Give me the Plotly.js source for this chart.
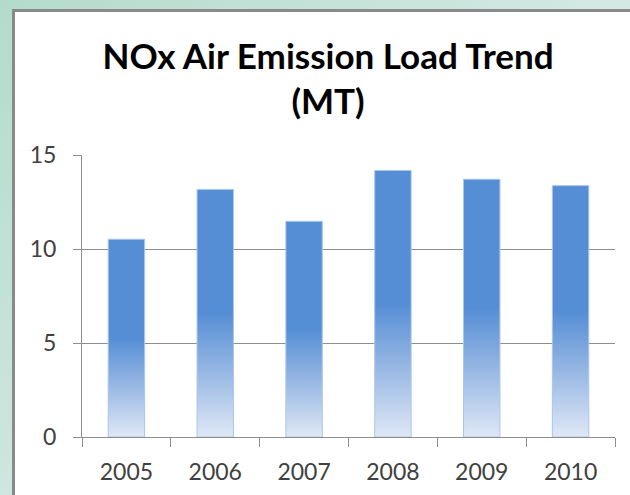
<!DOCTYPE html>
<html>
<head>
<meta charset="utf-8">
<script src="https://cdn.plot.ly/plotly-3.0.1.min.js"></script>
<style>
  body {
    margin: 0;
    width: 630px;
    height: 495px;
    overflow: hidden;
    background: linear-gradient(135deg, #b3dbcb 0%, #d4e9e4 55%, #dbeee3 100%);
  }
  #frame {
    position: absolute;
    left: 12px;
    top: 9px;
    width: 615px;
    height: 483px;
    border-left: 3px solid #8a8a8a;
    border-top: 3px solid #8a8a8a;
    background: #ffffff;
  }
  #chart { width: 615px; height: 483px; }
</style>
</head>
<body>
<div id="frame"><div id="chart"></div></div>
<script>
// NOx load per year (MT)
const years = ['2005', '2006', '2007', '2008', '2009', '2010'];
const loads = [10.52, 13.17, 11.47, 14.18, 13.71, 13.37];

const yTicks = [0, 5, 10, 15];

const barWidth = 0.41;

// each bar is its own filled trace so the gradient runs over its own height
const traces = loads.map(function (v, i) {
    const left = i - barWidth / 2;
    const right = i + barWidth / 2;
    return {
        x: [left, left, right, right, left],
        y: [0, v, v, 0, 0],
        mode: 'lines',
        fill: 'toself',
        line: {color: '#aac6ec', width: 1},
        fillgradient: {
            type: 'vertical',
            colorscale: [[0, '#dfe8f6'], [0.25, '#9ab9e4'], [0.5, '#558ed5'], [1, '#558ed5']],
        },
        hoverinfo: 'skip',
        showlegend: false,
    };
});

const layout = {
    width: 615,
    height: 483,
    margin: {l: 67, r: 15, t: 143, b: 58},
    paper_bgcolor: '#ffffff',
    plot_bgcolor: '#ffffff',
    showlegend: false,
    font: {family: 'Lato, "Open Sans", sans-serif', color: '#404040', size: 23},
    title: {
        text: 'NOx Air Emission Load Trend<br>(MT)',
        font: {family: 'Lato, "Open Sans", sans-serif', size: 35, color: '#000000', weight: 'bold'},
        x: 0.509,
        xanchor: 'center',
        y: 0.882,
        yanchor: 'top',
        yref: 'container',
    },
    xaxis: {
        range: [-0.5, years.length - 0.5],
        tickvals: years.map(function (d, i) { return i; }),
        ticktext: years,
        ticks: '',
        ticklabelstandoff: 14,
        // small ticks between the categories
        minor: {
            tickmode: 'array',
            tickvals: years.concat(['']).map(function (d, i) { return i - 0.5; }),
            ticks: 'outside',
            ticklen: 9,
            tickcolor: '#8e8e8e',
            showgrid: false,
        },
        showgrid: false,
        zeroline: false,
        showline: true,
        linecolor: '#8e8e8e',
        linewidth: 1,
        fixedrange: true,
    },
    yaxis: {
        range: [0, 15],
        tickvals: yTicks,
        ticks: 'outside',
        ticklen: 8,
        tickcolor: '#8e8e8e',
        ticklabelstandoff: 12,
        showgrid: true,
        gridcolor: '#8e8e8e',
        gridwidth: 1,
        zeroline: false,
        showline: true,
        linecolor: '#8e8e8e',
        linewidth: 1,
        fixedrange: true,
    },
};

Plotly.newPlot('chart', traces, layout, {displayModeBar: false, staticPlot: true});
</script>
</body>
</html>
